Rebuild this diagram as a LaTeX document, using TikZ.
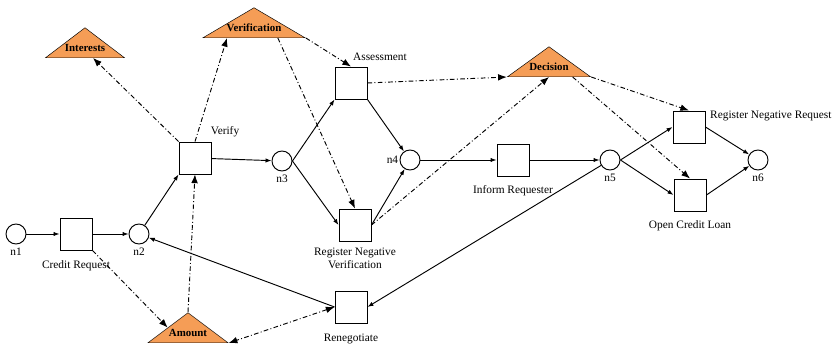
\documentclass[tikz,border=0pt]{standalone}
\usepackage{fontspec}
\setmainfont{Liberation Serif}
\usetikzlibrary{positioning, arrows.meta, shapes.geometric, calc, shadows}

\definecolor{resorange}{HTML}{F59D56}

\begin{document}
\begin{tikzpicture}[x=0.03cm, y=-0.03cm,
  font=\fontsize{9.7}{11}\selectfont,
  place/.style={circle, draw, thick, minimum size=0.6cm, inner sep=0pt},
  trans/.style={rectangle, draw, thick, fill=white, minimum size=0.96cm,
    inner sep=0pt, drop shadow={shadow xshift=0.4pt, shadow yshift=-0.4pt, opacity=0.35}},
  res/.style={isosceles triangle, isosceles triangle stretches,
    shape border rotate=90, draw, fill=resorange, inner sep=0pt,
    minimum height=0.9cm, anchor=lower side},
  restext/.style={inner sep=0pt, font=\fontsize{9.3}{11}\selectfont\bfseries},
  lbl/.style={inner sep=1pt},
  flow/.style={thick, -{Latex[length=1.8mm, width=1.3mm]}},
  data/.style={thick, dash pattern=on 4pt off 2pt on 0.8pt off 2pt,
    -{Latex[length=2.6mm, width=2mm]}}]
  \useasboundingbox (0,0) rectangle (836,348);

  % places
  \node[place] (n1) at (16,234) {};
  \node[place] (n2) at (139,234) {};
  \node[place] (n3) at (282,161) {};
  \node[place] (n4) at (410,160) {};
  \node[place] (n5) at (610,160) {};
  \node[place] (n6) at (758,160) {};

  % transitions
  \node[trans] (cr) at (76,234) {};
  \node[trans] (vf) at (195,158) {};
  \node[trans] (as) at (351,83) {};
  \node[trans] (rnv) at (355,225) {};
  \node[trans] (ir) at (513,160) {};
  \node[trans] (rn) at (351,307) {};
  \node[trans] (rnr) at (689,127) {};
  \node[trans] (ocl) at (690,195) {};

  % resources, placed by the middle of their base
  \node[res, minimum width=2.37cm] (int) at (85,58) {};
  \node[res, minimum width=3.06cm] (vfn) at (254,38) {};
  \node[res, minimum width=2.49cm] (dec) at (549,77) {};
  \node[res, minimum width=2.4cm] (amt) at (188,343) {};
  \node[restext] (int-t) at ([yshift=0.3cm]int.lower side) {Interests};
  \node[restext] (vfn-t) at ([yshift=0.3cm]vfn.lower side) {Verification};
  \node[restext] (dec-t) at ([yshift=0.3cm]dec.lower side) {Decision};
  \node[restext] (amt-t) at ([yshift=0.3cm]amt.lower side) {Amount};

  % labels
  \node[lbl, below=2pt of n1] (n1-l) {n1};
  \node[lbl, below=2pt of n2] (n2-l) {n2};
  \node[lbl, below=2pt of n3] (n3-l) {n3};
  \node[lbl, left=0pt of n4] (n4-l) {n4};
  \node[lbl, below=2pt of n5] (n5-l) {n5};
  \node[lbl, below=2pt of n6] (n6-l) {n6};
  \node[lbl, below=2.6mm of cr] (cr-l) {Credit Request};
  \node[lbl] (vf-l) at (225,132) {Verify};
  \node[lbl] (as-l) at (380,57) {Assessment};
  \node[lbl, align=center, below=1.5mm of rnv] (rnv-l) {Register Negative\\Verification};
  \node[lbl, below=2.4mm of ir] (ir-l) {Inform Requester};
  \node[lbl, below=2.6mm of rn] (rn-l) {Renegotiate};
  \node[lbl, right=1mm of rnr.north east, anchor=north west, yshift=1pt] (rnr-l) {Register Negative Request};
  \node[lbl, below=2.4mm of ocl] (ocl-l) {Open Credit Loan};

  % control flow
  \draw[flow] (n1) -- (cr);
  \draw[flow] (cr) -- (n2);
  \draw[flow] (n2) -- (vf.south west);
  \draw[flow] (vf) -- (n3);
  \draw[flow] (n3.east) -- (as.south west);
  \draw[flow] (n3.east) -- (rnv.west);
  \draw[flow] (as.south east) -- (n4);
  \draw[flow] (rnv.east) -- (n4);
  \draw[flow] (n4) -- (ir);
  \draw[flow] (ir) -- (n5);
  \draw[flow] (n5.east) -- (rnr.west);
  \draw[flow] (n5.east) -- (ocl.west);
  \draw[flow] (rnr.east) -- (n6);
  \draw[flow] (ocl.east) -- (n6);
  \draw[flow] (n5) -- (rn.east);
  \draw[flow] (rn.west) -- (n2);

  % resource usage
  \draw[data] (vf.north west) -- ($(int.left corner)!0.6!(int.right corner)$);
  \draw[data] (vf.north) -- ($(vfn.left corner)!0.24!(vfn.right corner)$);
  \draw[data] (amt.apex) -- (vf.south);
  \draw[data] (cr.south east) -- (amt.left side);
  \draw[data, {Latex[length=2.6mm, width=2mm]}-{Latex[length=2.6mm, width=2mm]}] (rn.west) -- (amt.right corner);
  \draw[data] (vfn.right corner) -- (as.north);
  \draw[data] ($(vfn.left corner)!0.73!(vfn.right corner)$) -- (rnv.north);
  \draw[data] (as.east) -- (dec.left corner);
  \draw[data] (rnv.east) -- (dec.lower side);
  \draw[data] (dec.right corner) -- (rnr.north);
  \draw[data] ($(dec.left corner)!0.78!(dec.right corner)$) -- (ocl.north);
\end{tikzpicture}
\end{document}
